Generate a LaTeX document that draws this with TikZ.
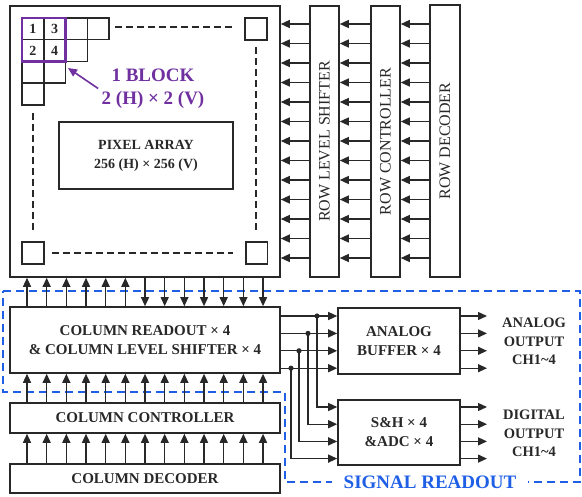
\documentclass[tikz,border=0pt]{standalone}
\usepackage{fontspec}
\setmainfont{Liberation Serif}
\usetikzlibrary{arrows.meta}
\definecolor{ink}{RGB}{40,40,40}
\definecolor{blockpurple}{RGB}{112,48,160}
\definecolor{readblue}{RGB}{30,95,230}

\begin{document}
\begin{tikzpicture}[x=1pt,y=-1pt,
    box/.style={draw=ink, line width=1.6pt, inner sep=0pt, text=ink, align=center,
      font=\bfseries\fontsize{15}{19}\selectfont},
    rowtext/.style={rotate=90, text=ink, font=\fontsize{16}{19}\selectfont},
    outtext/.style={text=ink, align=center, font=\bfseries\fontsize{14.5}{18.5}\selectfont},
    arr/.style={draw=ink, line width=1.3pt, -{Triangle[length=9pt,width=8pt]}},
    cell/.style={draw=ink, line width=1.5pt},
    gap/.style={draw=ink, line width=1.5pt, dash pattern=on 7pt off 4pt}]
      \useasboundingbox (0,0) rectangle (582,497);

      % 1. signal readout region (drawn first, lies under the arrows)
      \draw[readblue, line width=2.4pt, dash pattern=on 8pt off 5pt]
        (3,291) -- (580,291) -- (580,482) -- (285,482) -- (285,392) -- (3,392) -- cycle;
      \node[fill=white, text=readblue, inner xsep=12pt, inner ysep=1pt,
        font=\bfseries\fontsize{19}{22}\selectfont] (sigro) at (430,482) {SIGNAL READOUT};

      % 2. pixel array and row blocks
      \node[box, minimum width=270pt, minimum height=271pt] (pix) at (145,141.5) {};
      \node[box, minimum width=174pt, minimum height=67pt,
        font=\bfseries\fontsize{14}{19}\selectfont] (core) at (146,155.5) {PIXEL ARRAY\\256 (H) × 256 (V)};
      \node[box, minimum width=29pt, minimum height=271pt] (rls) at (324.5,141.5) {};
      \node[box, minimum width=29pt, minimum height=271pt] (rc) at (385.5,141.5) {};
      \node[box, minimum width=30pt, minimum height=272pt] (rd) at (445,141) {};
      \node[rowtext] (rlstext) at (rls.center) {ROW LEVEL SHIFTER};
      \node[rowtext] (rctext) at (rc.center) {ROW CONTROLLER};
      \node[rowtext] (rdtext) at (rd.center) {ROW DECODER};

      % 3. pixel cells in the array
      \foreach \r in {0,...,3} {
        \pgfmathtruncatemacro{\last}{3-\r}
        \foreach \c in {0,...,\last}
          \draw[cell] ({22+21.75*\c},{18+21.75*\r}) rectangle ++(21.75,21.75);
      }
      \draw[cell] (245,18) rectangle ++(22,22);
      \draw[cell] (22,242) rectangle ++(22,22);
      \draw[cell] (246,242) rectangle ++(21.5,22);
      \draw[gap] (115,27) -- (233,27);
      \draw[gap] (256,47) -- (256,230);
      \draw[gap] (33,113) -- (33,230);
      \draw[gap] (52,253) -- (233,253);
      \draw[blockpurple, line width=2.4pt] (22,18) rectangle (65.5,61.5);
      \foreach \n/\x/\y in {1/32.9/29, 3/54.6/29, 2/32.9/50.8, 4/54.6/50.8}
        \node[text=ink, font=\bfseries\fontsize{14}{14}\selectfont] (n\n) at (\x,\y) {\n};

      % 4. one block label
      \node[text=blockpurple, align=center, font=\bfseries\fontsize{19}{23}\selectfont]
        (blk) at (153,88.5) {1 BLOCK\\2 (H) × 2 (V)};
      \coordinate (blktip) at (68,68);
      \draw[arr, draw=blockpurple, line width=1.6pt] (blk.west) -- (blktip);

      % 5. row arrows
      \foreach \i in {0,...,12} {
        \coordinate (r\i) at (0,{24+19.5*\i});
        \draw[arr] (rls.west |- r\i) -- (pix.east |- r\i);
        \draw[arr] (rc.west |- r\i) -- (rls.east |- r\i);
        \draw[arr] (rd.west |- r\i) -- (rc.east |- r\i);
      }

      % 6. column blocks
      \node[box, minimum width=270pt, minimum height=66pt] (colro) at (145,340)
        {COLUMN READOUT × 4\\\& COLUMN LEVEL SHIFTER × 4};
      \node[box, minimum width=270pt, minimum height=30pt] (colctl) at (145,418) {COLUMN CONTROLLER};
      \node[box, minimum width=270pt, minimum height=29pt] (coldec) at (145,478.5) {COLUMN DECODER};

      % 7. column arrows
      \foreach \i in {0,...,12} {
        \coordinate (c\i) at ({27+19.67*\i},0);
        \draw[arr] (coldec.north -| c\i) -- (colctl.south -| c\i);
        \draw[arr] (colctl.north -| c\i) -- (colro.south -| c\i);
      }
      \foreach \i in {0,...,5} \draw[arr] (colro.north -| c\i) -- (pix.south -| c\i);
      \foreach \i in {6,...,12} \draw[arr] (pix.south -| c\i) -- (colro.north -| c\i);

      % 8. analog buffer and S&H / ADC
      \node[box, minimum width=122pt, minimum height=66pt] (abuf) at (399,341) {ANALOG\\BUFFER × 4};
      \node[box, minimum width=122pt, minimum height=65pt] (sha) at (399,432.5) {S\&H × 4\\\&ADC × 4};
      \coordinate (aout) at (487,0);
      \foreach \k/\dx in {0/317,1/308,2/299,3/291} {
        \coordinate (a\k) at (0,{316+17.4*\k});
        \coordinate (s\k) at (0,{407+17.2*\k});
        \coordinate (d\k) at (\dx,{316+17.4*\k});
        \draw[arr] (colro.east |- a\k) -- (abuf.west |- a\k);
        \draw[arr] (d\k) |- (sha.west |- s\k);
        \fill[ink] (d\k) circle (2.6pt);
        \draw[arr] (abuf.east |- a\k) -- (aout |- a\k);
        \draw[arr] (sha.east |- s\k) -- (aout |- s\k);
      }

      % 9. output labels
      \node[outtext] (aolab) at (534,341.5) {ANALOG\\OUTPUT\\CH1\textasciitilde4};
      \node[outtext] (dolab) at (534,433.5) {DIGITAL\\OUTPUT\\CH1\textasciitilde4};
    \end{tikzpicture}
\end{document}
